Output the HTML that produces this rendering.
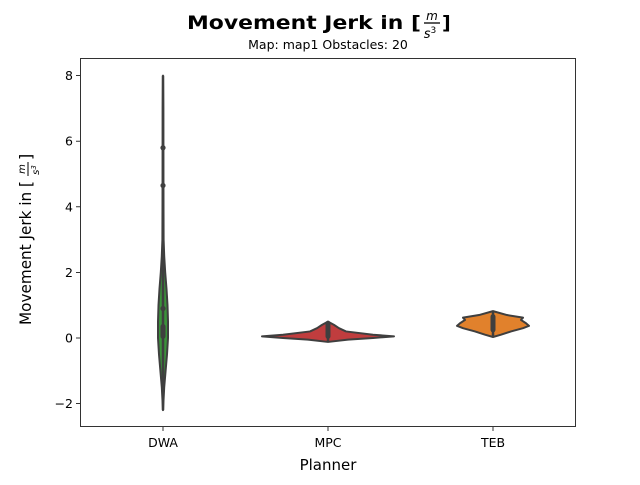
<!DOCTYPE html>
<html><head><meta charset="utf-8"><style>
body{margin:0;background:#fff}
svg text{font-family:"DejaVu Sans","Liberation Sans",sans-serif}
</style></head><body>
<svg id="chart" width="640" height="480" xmlns="http://www.w3.org/2000/svg">
<text x="421" y="29" font-size="19" font-weight="bold" text-anchor="end" textLength="234" lengthAdjust="spacingAndGlyphs">Movement Jerk in [</text>
<g>
<text x="432" y="20" font-size="12" font-style="italic" text-anchor="middle">m</text>
<line x1="424" y1="23" x2="440" y2="23" stroke="#000" stroke-width="1.3"/>
<text x="430" y="38" font-size="13" font-style="italic" text-anchor="middle">s<tspan font-size="9" dy="-5" font-style="normal">3</tspan></text>
</g>
<text x="442" y="29" font-size="19" font-weight="bold">]</text>
<text x="328" y="49" font-size="12.5" text-anchor="middle">Map: map1 Obstacles: 20</text>
<rect x="80.5" y="58.5" width="495" height="368" fill="none" stroke="#000" stroke-width="0.8"/>
<g id="yaxis"></g>
<g id="xaxis"></g>
<g id="violins"></g>
<text x="328" y="470" font-size="15" text-anchor="middle">Planner</text>
<g transform="translate(31,0) rotate(-90)">
<text x="-181" y="0" font-size="16" text-anchor="end" textLength="144" lengthAdjust="spacingAndGlyphs">Movement Jerk in [</text>
<text x="-169" y="-6" font-size="10" font-style="italic" text-anchor="middle">m</text>
<line x1="-176" y1="-3" x2="-162" y2="-3" stroke="#000" stroke-width="1"/>
<text x="-170" y="8" font-size="10" font-style="italic" text-anchor="middle">s<tspan font-size="7" dy="-3">3</tspan></text>
<text x="-160" y="0" font-size="16">]</text>
</g>
</svg>
<script>
const categories=["DWA","MPC","TEB"];
const yTicks=[-2,0,2,4,6,8];
const colors=["#3a923a","#c03d3e","#e1812c"];
const dwaValues=[-2.2,-1.5,-1,-0.5,0,0.5,1,1.5,2,2.5,3,5,7,8];
const dwaDensity=[0,1.2,2.6,4,5,5,4.5,3.5,2.2,1.2,0.6,0.4,0.3,0];
const mpcValues=[-0.12,-0.05,0,0.05,0.1,0.2,0.3,0.4,0.5];
const mpcDensity=[0,20,45,66,45,18,11,6,0];
const tebValues=[0.03,0.1,0.2,0.3,0.37,0.45,0.55,0.62,0.7,0.82];
const tebDensity=[0,8,18,30,36,33,28,30,14,0];
const boxLow=[0.05,0.05,0.25];
const boxHigh=[0.35,0.45,0.65];
const outliers=[5.8,4.65,0.9];
const ns="http://www.w3.org/2000/svg";
const y=v=>338-32.8*v;
const x=i=>163+165*i;
const wScale=1;
function mk(t,a,p){const e=document.createElementNS(ns,t);for(const k in a)e.setAttribute(k,a[k]);p.appendChild(e);return e;}
const ya=document.getElementById('yaxis');
yTicks.forEach(t=>{
  const l=mk('line',{x1:76,x2:80,y1:y(t),y2:y(t),stroke:'#000','stroke-width':0.8},ya);
  
  
  const tx=mk('text',{x:73,y:y(t)+4.5,'font-size':12.5,'text-anchor':'end'},ya);
  tx.textContent=t<0?'\u2212'+(-t):t;
  
  
});
const xa=document.getElementById('xaxis');
categories.forEach((c,i)=>{
  const l=mk('line',{x1:x(i),x2:x(i),y1:427,y2:431,stroke:'#000','stroke-width':0.8},xa);
  
  
  const tx=mk('text',{x:x(i),y:447,'font-size':12.5,'text-anchor':'middle'},xa);
  tx.textContent=c;
  
  
});
const vg=document.getElementById('violins');
const profiles=[[dwaValues,dwaDensity],[mpcValues,mpcDensity],[tebValues,tebDensity]];
profiles.forEach(([vals,dens],i)=>{
  const cx=x(i);let r=[],l=[];
  vals.forEach((v,k)=>{r.push((cx+dens[k]*wScale)+','+y(v));l.unshift((cx-dens[k]*wScale)+','+y(v));});
  const p=mk('polygon',{points:r.concat(l).join(' '),fill:colors[i],stroke:'#3f3f3f','stroke-width':2,'stroke-linejoin':'round'},vg);
  
  
  const w=mk('line',{x1:cx,x2:cx,y1:y(vals[0]),y2:y(vals[vals.length-1]),stroke:'#3f3f3f','stroke-width':2.5},vg);
  
  
  const b=mk('line',{x1:cx,x2:cx,y1:y(boxLow[i]),y2:y(boxHigh[i]),stroke:'#3f3f3f','stroke-width':5,'stroke-linecap':'round'},vg);
  
  
});
outliers.forEach(v=>{
  const c=mk('circle',{cx:x(0),cy:y(v),r:2.6,fill:'#3f3f3f'},vg);
  
  
});
</script>
</body></html>
